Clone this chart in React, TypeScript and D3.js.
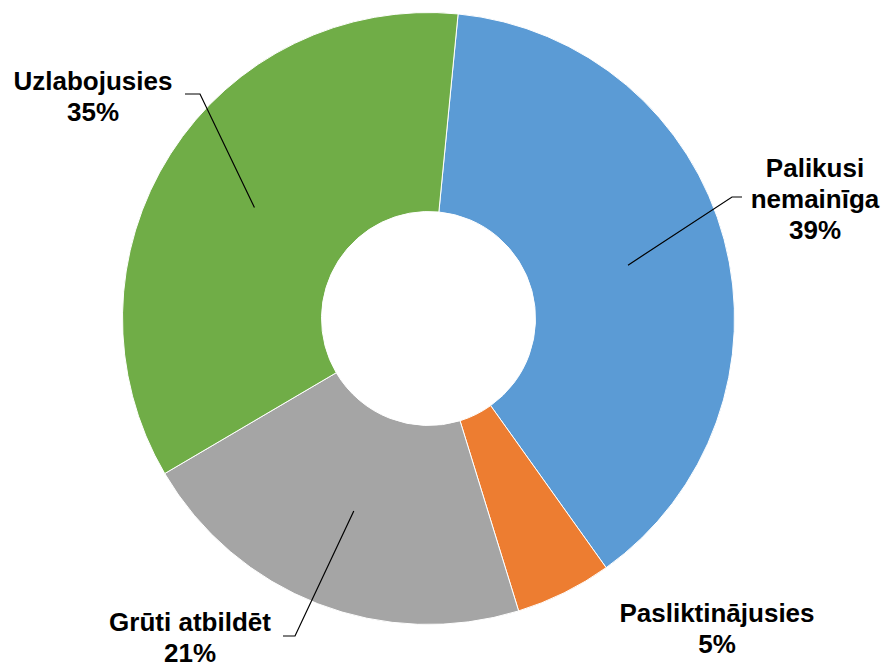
import React from "react";
import * as d3 from "d3";

const categories = ["Palikusi nemainīga", "Pasliktinājusies", "Grūti atbildēt", "Uzlabojusies"];
const values = [38.6, 5.1, 21.3, 35.0];
const colors = ["#5B9BD5", "#ED7D31", "#A5A5A5", "#70AD47"];
const labelLines = [["Palikusi", "nemainīga"], ["Pasliktinājusies"], ["Grūti atbildēt"], ["Uzlabojusies"]];

// layout (label anchor + leader elbow), not data
const labelPos = [
  { x: 815, y: 177, elbow: [732, 197], end: [742, 197] },
  { x: 717, y: 622, elbow: null, end: null },
  { x: 190, y: 631, elbow: [295, 636], end: [283, 636] },
  { x: 93, y: 90, elbow: [200, 94], end: [185, 94] },
];

const W = 886;
const H = 667;
const cx = 428.5;
const cy = 318.5;
const R = 306;
const r = 107;
const start = (5.55 * Math.PI) / 180;

export default function App() {
  const total = d3.sum(values);
  const pie = d3
    .pie<number>()
    .sort(null)
    .startAngle(start)
    .endAngle(start + 2 * Math.PI)
    .value((d) => d);
  const arcs = pie(values);
  const arc = d3.arc<d3.PieArcDatum<number>>().innerRadius(r).outerRadius(R);
  const lh = 31;
  return (
    <div style={{ position: "fixed", left: 0, top: 0 }}>
      <svg width={W} height={H} style={{ display: "block" }}>
        <rect width={W} height={H} fill="#fff" />
        <g transform={`translate(${cx},${cy})`}>
          {arcs.map((a, i) => (
            <path key={i} d={arc(a) || ""} fill={colors[i]} stroke="#fff" strokeWidth={1} />
          ))}
        </g>
        {arcs.map((a, i) => {
          const p = labelPos[i];
          if (!p.elbow) return null;
          const c = arc.centroid(a);
          const pts = [[cx + c[0], cy + c[1]], p.elbow, p.end];
          return (
            <path
              key={"l" + i}
              d={d3.line()(pts as [number, number][]) || ""}
              fill="none"
              stroke="#000"
              strokeWidth={1.2}
            />
          );
        })}
        {arcs.map((a, i) => {
          const p = labelPos[i];
          const lines = [...labelLines[i], `${Math.round((values[i] / total) * 100)}%`];
          return (
            <text
              key={"t" + i}
              x={p.x}
              y={p.y}
              textAnchor="middle"
              fontFamily="'Liberation Sans', Arial, sans-serif"
              fontWeight="bold"
              fontSize={26}
              fill="#000"
            >
              {lines.map((t, j) => (
                <tspan key={j} x={p.x} y={p.y + j * lh}>
                  {t}
                </tspan>
              ))}
            </text>
          );
        })}
      </svg>
    </div>
  );
}
